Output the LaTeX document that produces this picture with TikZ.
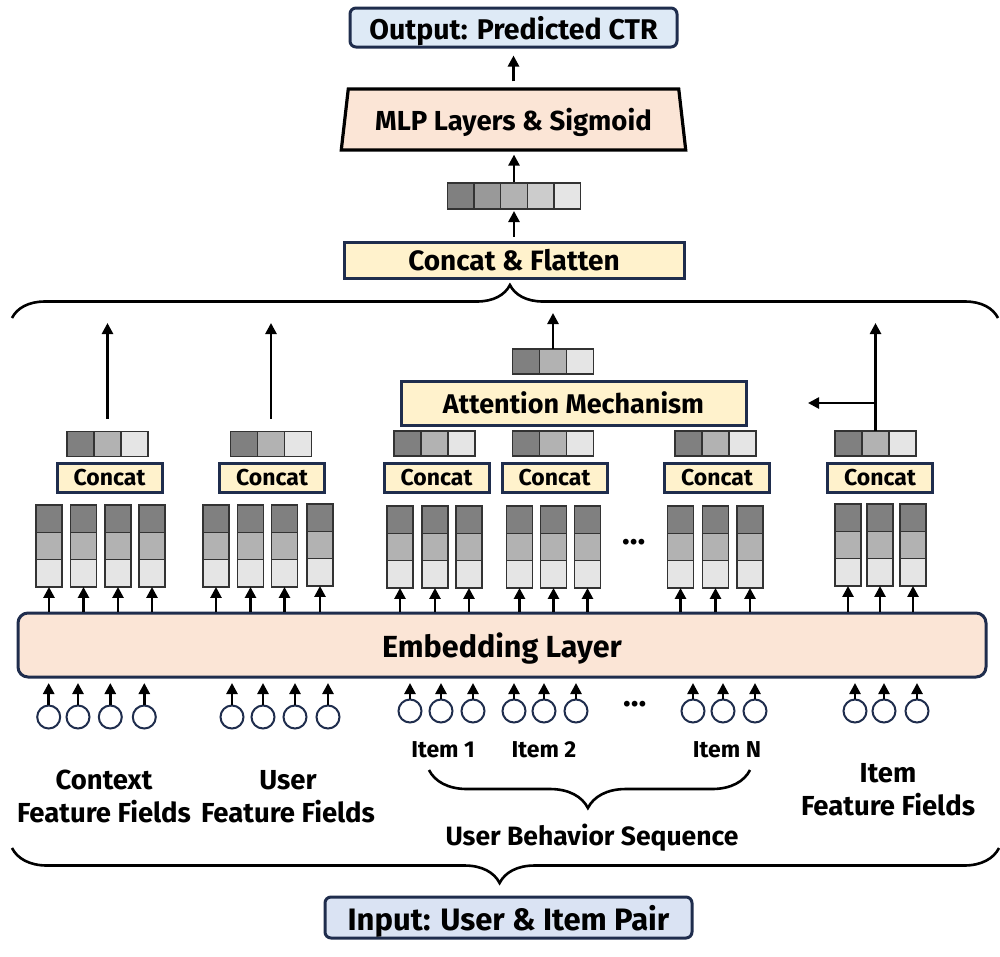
\documentclass[tikz,border=0pt]{standalone}
\usepackage{fontspec}
\setmainfont{Fira Sans}
\usetikzlibrary{arrows.meta,shapes.geometric,decorations.pathreplacing,calc}
\definecolor{navy}{HTML}{1F2D4D}
\definecolor{outblue}{HTML}{DEEAF6}
\definecolor{inblue}{HTML}{DAE3F3}
\definecolor{peach}{HTML}{FBE5D6}
\definecolor{yel}{HTML}{FFF2CC}
\definecolor{gA}{HTML}{808080}
\definecolor{gB}{HTML}{B2B2B2}
\definecolor{gC}{HTML}{E5E5E5}
\definecolor{g2}{HTML}{999999}
\definecolor{g4}{HTML}{CCCCCC}
\definecolor{cellbd}{HTML}{333333}
\newcommand\fs[1]{\fontsize{#1}{#1}\selectfont\bfseries}
% horizontal 3-cell vector: name, cx, cy
\newcommand\hvecthree[3]{%
  \node[cellh,fill=gA] (#1-1) at (#2-27,#3) {};
  \node[cellh,fill=gB] (#1-2) at (#2,#3) {};
  \node[cellh,fill=gC] (#1-3) at (#2+27,#3) {};}
% vertical 3-cell stack: name, cx, ytop
\newcommand\vstack[3]{%
  \node[cellv,fill=gA] (#1-1) at (#2,#3+13.7) {};
  \node[cellv,fill=gB] (#1-2) at (#2,#3+41) {};
  \node[cellv,fill=gC] (#1-3) at (#2,#3+68.3) {};
  \draw[arr] (#1-3.south |- emb.north) -- (#1-3.south);}
% input circle: name, cx, cy
\newcommand\incirc[3]{%
  \node[incircle] (#1) at (#2,#3) {};
  \draw[arr] (#1.north) -- (#1.north |- inarrtop);}
\begin{document}
\begin{tikzpicture}[x=1pt,y=-1pt,
  arr/.style={line width=2.6pt,-{Triangle[length=11pt,width=11pt]}},
  cellh/.style={draw=cellbd,line width=1.3pt,minimum width=27pt,minimum height=25pt,inner sep=0pt,outer sep=0pt},
  cellv/.style={draw=cellbd,line width=1.3pt,minimum width=26pt,minimum height=27.3pt,inner sep=0pt,outer sep=0pt},
  cell5/.style={draw=cellbd,line width=1.3pt,minimum width=26.6pt,minimum height=26pt,inner sep=0pt,outer sep=0pt},
  navybox/.style={draw=navy,line width=3pt,inner sep=0pt,text depth=0pt},
  concatbox/.style={navybox,fill=yel,minimum width=105pt,minimum height=29pt,font=\fs{23}},
  incircle/.style={circle,draw=navy,line width=2pt,minimum size=23pt,inner sep=0pt},
  bracest/.style={draw,line width=2.6pt,decorate},
  lbl/.style={align=center,inner sep=0pt}]
\useasboundingbox (0,0) rectangle (1000,956);
% top part
\node[navybox,fill=outblue,rounded corners=6pt,minimum width=327pt,minimum height=39pt,font=\fs{28.5}] (out) at (513.5,27.5) {Output: Predicted CTR};
\node[trapezium,trapezium stretches=true,trapezium angle=75.3,draw=black,line width=3.2pt,fill=peach,minimum width=345pt,minimum height=61pt,inner sep=0pt,text depth=0pt,font=\fs{27.5}] (mlp) at (513.5,119.5) {MLP Layers \& Sigmoid};
\node[cell5,fill=gA] (f1) at (460.8,196) {};
\node[cell5,fill=g2] (f2) at (487.4,196) {};
\node[cell5,fill=gB] (f3) at (514,196) {};
\node[cell5,fill=g4] (f4) at (540.6,196) {};
\node[cell5,fill=gC] (f5) at (567.2,196) {};
\node[navybox,fill=yel,minimum width=340pt,minimum height=36pt,font=\fs{28}] (cf) at (514,260) {Concat \& Flatten};
\draw[arr,shorten <=6pt,shorten >=7pt] (mlp.north -| out.south) -- (out.south);
\draw[arr,shorten <=1pt,shorten >=3pt] (f3.north) -- (f3.north |- mlp.south);
\draw[arr,shorten <=4pt,shorten >=2pt] (cf.north -| f3.south) -- (f3.south);
\draw[bracest,decoration={brace,amplitude=33pt,aspect=0.505}] (12,318) -- (998,318);
% embedding
\node[navybox,fill=peach,rounded corners=10pt,minimum width=968pt,minimum height=64pt,font=\fs{30.5}] (emb) at (502,645) {Embedding Layer};
% attention
\node[navybox,fill=yel,minimum width=345pt,minimum height=44pt,font=\fs{27}] (att) at (573.5,403) {Attention Mechanism};
\hvecthree{va}{553}{361.5}
\coordinate (atttop) at (553,313);
\draw[arr] (va-2.north) -- (va-2.north |- atttop);
% concat boxes and vectors
\node[concatbox] (cc) at (109.5,477.5) {Concat};
\node[concatbox] (cu) at (272,477.5) {Concat};
\node[concatbox] (c1) at (436.5,477.5) {Concat};
\node[concatbox] (c2) at (554.5,477.5) {Concat};
\node[concatbox] (cn) at (717,477.5) {Concat};
\node[concatbox] (ci) at (880,477.5) {Concat};
\hvecthree{vc}{107.5}{444}
\hvecthree{vu}{271}{444}
\hvecthree{v1}{434.5}{443.5}
\hvecthree{v2}{553}{443.5}
\hvecthree{vn}{715.5}{443.5}
\hvecthree{vf}{875.5}{443.5}
\coordinate (uptop) at (0,323);
\draw[arr,shorten <=13pt] (vc-2.north) -- (vc-2.north |- uptop);
\draw[arr,shorten <=13pt] (vu-2.north) -- (vu-2.north |- uptop);
\draw[arr] (vf-2.north) -- (vf-2.north |- uptop);
\coordinate (fleft) at (808,403);
\draw[arr] (vf-2.north |- fleft) -- (fleft);
% stacks
\vstack{sc1}{49}{505}\vstack{sc2}{83.5}{505}\vstack{sc3}{118}{505}\vstack{sc4}{152}{505}
\vstack{su1}{216}{505}\vstack{su2}{250.5}{505}\vstack{su3}{284.5}{505}\vstack{su4}{320}{504}
\vstack{s11}{400}{506}\vstack{s12}{435}{506}\vstack{s13}{469}{506}
\vstack{s21}{519.5}{506}\vstack{s22}{553.5}{506}\vstack{s23}{587.5}{506}
\vstack{sn1}{680.5}{506}\vstack{sn2}{715.5}{506}\vstack{sn3}{750}{506}
\vstack{sf1}{848}{504}\vstack{sf2}{880}{504}\vstack{sf3}{913}{504}
\node[inner sep=0pt,font=\fs{32}] (dotsa) at (634,542) {…};
% inputs
\coordinate (inarrtop) at (0,683);
\incirc{ic1}{48.7}{717}\incirc{ic2}{78}{717}\incirc{ic3}{110.3}{717}\incirc{ic4}{144.3}{717}
\incirc{iu1}{232}{717}\incirc{iu2}{263}{717}\incirc{iu3}{295}{717}\incirc{iu4}{328}{717}
\incirc{i11}{410}{711}\incirc{i12}{441}{711}\incirc{i13}{473}{711}
\incirc{i21}{514}{711}\incirc{i22}{544}{711}\incirc{i23}{576}{711}
\incirc{in1}{693}{711}\incirc{in2}{723}{711}\incirc{in3}{755}{711}
\incirc{if1}{855}{711}\incirc{if2}{884}{711}\incirc{if3}{917}{711}
\node[inner sep=0pt,font=\fs{32}] (dotsb) at (635,704) {…};
% labels
\node[lbl,font=\fs{23}] (l1) at (443,750) {Item 1};
\node[lbl,font=\fs{23}] (l2) at (544,750) {Item 2};
\node[lbl,font=\fs{23}] (ln) at (727,750) {Item N};
\draw[bracest,decoration={brace,amplitude=38pt,aspect=0.505}] (750,770) -- (429,770);
\node[lbl,font=\fs{26.5}] (ubs) at (592,838) {User Behavior Sequence};
\node[lbl,font=\fs{27.5}] (lctx) at (104,796.5) {Context\\[5.5pt]Feature Fields};
\node[lbl,font=\fs{27.5}] (lusr) at (288,796.5) {User\\[5.5pt]Feature Fields};
\node[lbl,font=\fs{27.5}] (litm) at (888,790) {Item\\[5.5pt]Feature Fields};
\draw[bracest,decoration={brace,amplitude=35pt,aspect=0.506}] (999,848) -- (12,848);
\node[navybox,fill=inblue,rounded corners=6pt,minimum width=367pt,minimum height=41pt,font=\fs{31}] (inp) at (508.5,917.5) {Input: User \& Item Pair};
\end{tikzpicture}
\end{document}
